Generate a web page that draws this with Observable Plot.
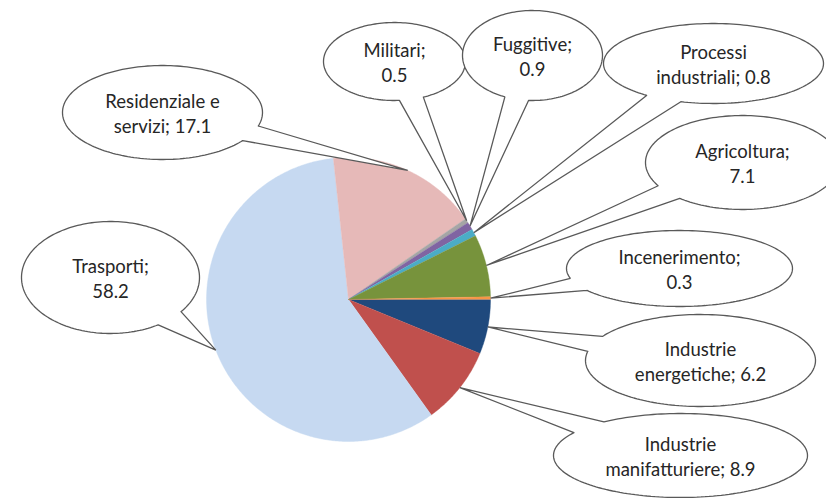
<!DOCTYPE html>
<html>
<head>
<meta charset="utf-8">
<script src="https://cdn.jsdelivr.net/npm/d3@7"></script>
<script src="https://cdn.jsdelivr.net/npm/@observablehq/plot@0.6"></script>
<style>
  html, body { margin: 0; padding: 0; background: #fff; }
  #chart svg { display: block; }
</style>
</head>
<body>
<div id="chart"></div>
<script>
// ---- data (in drawing order, clockwise from 3 o'clock) ----
const categories = [
  "Industrie energetiche", "Industrie manifatturiere", "Trasporti",
  "Residenziale e servizi", "Militari", "Fuggitive",
  "Processi industriali", "Agricoltura", "Incenerimento"
];
const values = [6.2, 8.9, 58.2, 17.1, 0.5, 0.9, 0.8, 7.1, 0.3];
// label text as wrapped in the original callouts
const labelText = [
  "Industrie\nenergetiche; 6.2", "Industrie\nmanifatturiere; 8.9", "Trasporti;\n58.2",
  "Residenziale e\nservizi; 17.1", "Militari;\n0.5", "Fuggitive;\n0.9",
  "Processi\nindustriali; 0.8", "Agricoltura;\n7.1", "Incenerimento;\n0.3"
];

// ---- styles ----
const sliceColors = [
  "#1f497d", "#c0504d", "#c6d9f1", "#e6b9b8", "#a5a5a5",
  "#8064a2", "#4bacc6", "#77933c", "#f79646"
];

// ---- layout (units = pixels, origin at pie centre, y up) ----
const pieRadius = 142;
const startAngle = 90; // degrees clockwise from 12 o'clock
// callout ellipse centre offsets and radii
const calloutCx = [352, 332, -238, -186, 46, 184, 365, 394, 331];
const calloutCy = [-61, -156, 22, 187, 238, 244, 236, 137, 31];
const calloutRx = [115, 127, 89, 100, 71, 70, 110, 97, 113];
const calloutRy = [46, 42, 56, 47, 39, 45, 40, 47, 38];
const wedgeHalf = 10; // degrees

const rad = Math.PI / 180;
const total = d3.sum(values);

// slice angles from data
let acc = startAngle;
const slices = categories.map((name, i) => {
  const a0 = acc;
  const a1 = acc + values[i] / total * 360;
  acc = a1;
  return {name, value: values[i], a0, a1, mid: (a0 + a1) / 2, color: sliceColors[i], i};
});

const polar = (a, r) => ({x: r * Math.sin(a * rad), y: r * Math.cos(a * rad)});

// slice polygons
const slicePts = [];
for (const s of slices) {
  slicePts.push({key: s.name, color: s.color, x: 0, y: 0});
  const n = Math.max(2, Math.ceil((s.a1 - s.a0) / 0.5));
  for (let k = 0; k <= n; k++) {
    const a = s.a0 + (s.a1 - s.a0) * k / n;
    const p = polar(a, pieRadius);
    slicePts.push({key: s.name, color: s.color, x: p.x, y: p.y});
  }
}

// callout shapes (ellipse with wedge pointing to slice mid-arc)
const calloutPts = [];
const labels = [];
for (const s of slices) {
  const i = s.i;
  const cx = calloutCx[i], cy = calloutCy[i], rx = calloutRx[i], ry = calloutRy[i];
  const tip = polar(s.mid, pieRadius);
  const t0 = Math.atan2((tip.y - cy) / ry, (tip.x - cx) / rx) / rad;
  const tStart = t0 + wedgeHalf, tEnd = t0 + 360 - wedgeHalf;
  const n = 180;
  for (let k = 0; k <= n; k++) {
    const t = (tStart + (tEnd - tStart) * k / n) * rad;
    calloutPts.push({key: s.name, order: i, x: cx + rx * Math.cos(t), y: cy + ry * Math.sin(t)});
  }
  calloutPts.push({key: s.name, order: i, x: tip.x, y: tip.y});
  calloutPts.push({key: s.name, order: i, x: cx + rx * Math.cos(tStart * rad), y: cy + ry * Math.sin(tStart * rad)});
  labels.push({text: labelText[i], x: cx, y: cy});
}

const W = 826, H = 498;
const originX = 348, originY = 299;

const chart = Plot.plot({
  width: W,
  height: H,
  margin: 0,
  x: {domain: [-originX, W - originX], axis: null},
  y: {domain: [originY - H, originY], axis: null},
  color: {type: "identity"},
  style: {background: "#fff", fontFamily: "Lato, 'Open Sans', sans-serif"},
  marks: [
    Plot.line(slicePts, {x: "x", y: "y", z: "key", fill: "color", stroke: "color", strokeWidth: 0.4, curve: "linear"}),
    Plot.line(calloutPts, {x: "x", y: "y", z: "key", fill: "white", stroke: "#595959", strokeWidth: 1.3, strokeLinejoin: "miter", curve: "linear"}),
    Plot.text(labels, {x: "x", y: "y", text: "text", fontSize: 18.5, lineHeight: 1.35, fill: "#262626", lineAnchor: "middle"})
  ]
});
document.getElementById("chart").appendChild(chart);
</script>
</body>
</html>
